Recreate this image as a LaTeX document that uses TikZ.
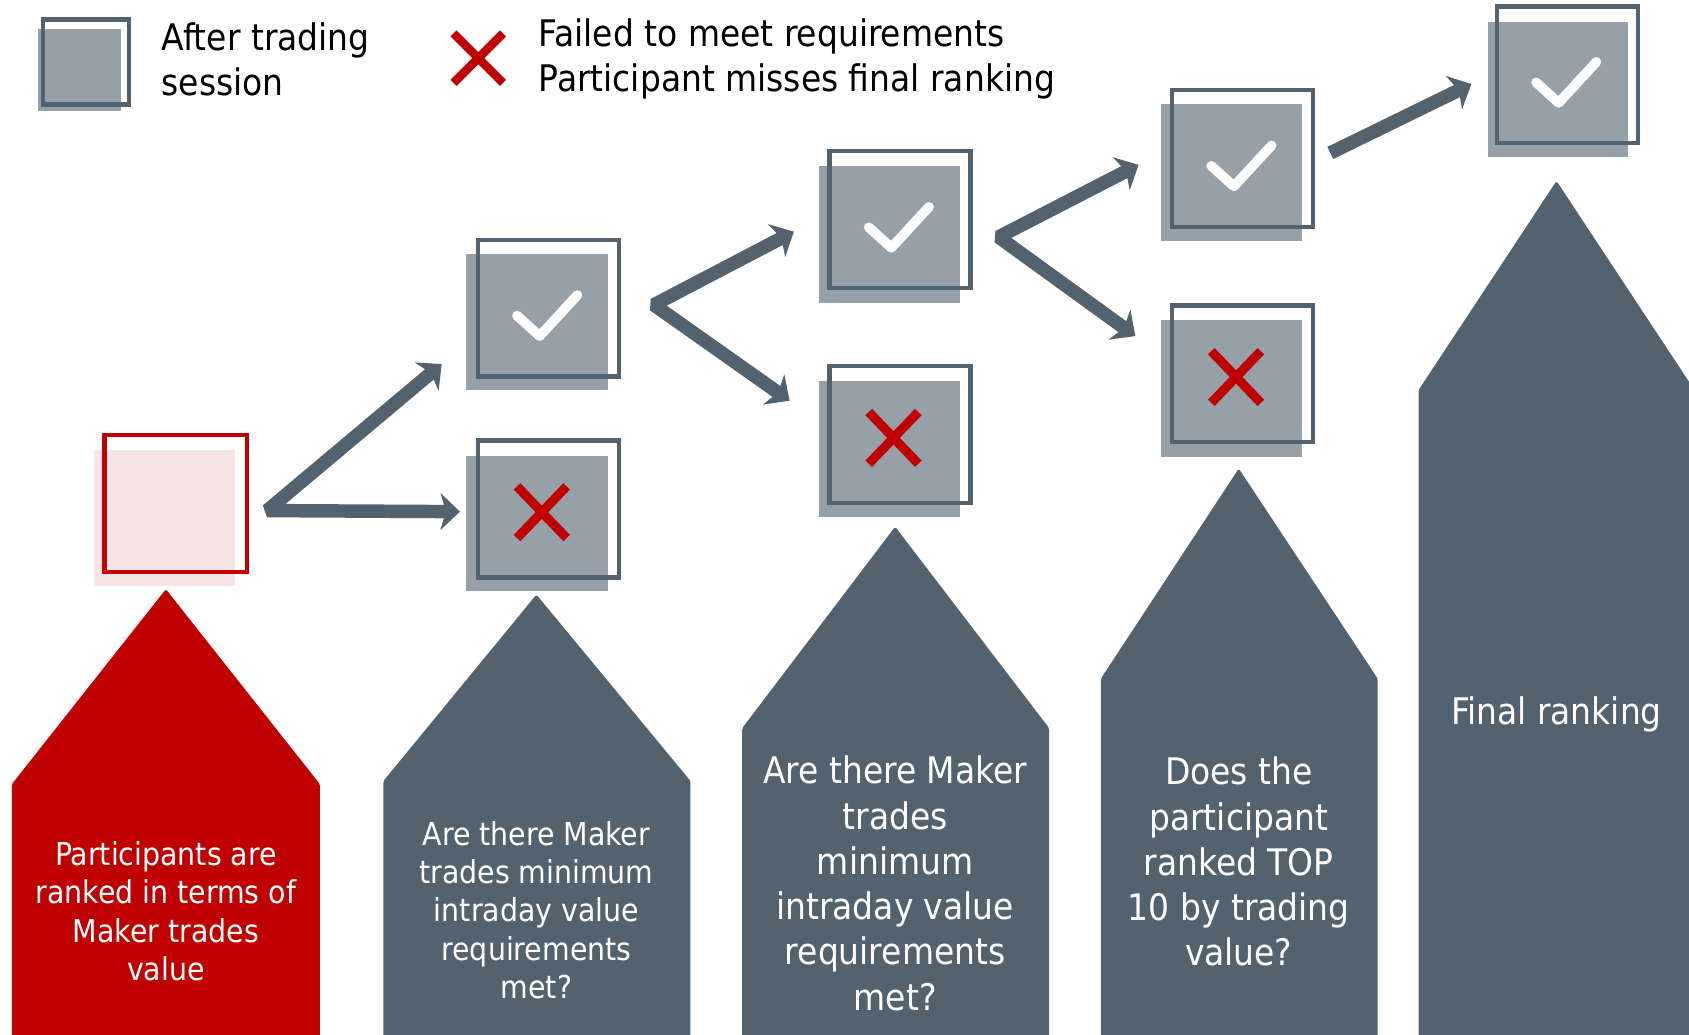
\documentclass[tikz,border=0pt]{standalone}
\usepackage{fontspec}
\setmainfont{DejaVu Sans Condensed}
\usetikzlibrary{arrows.meta,calc}
\definecolor{slate}{RGB}{82,99,111}
\definecolor{lslate}{RGB}{150,160,168}
\definecolor{dred}{RGB}{192,0,0}
\definecolor{lpink}{RGB}{246,228,228}
\tikzset{
  boxline/.style={draw=slate, line width=4pt, minimum width=131pt, minimum height=127pt, inner sep=0pt, outer sep=0pt},
  flowarrow/.style={draw=slate, line width=12.5pt, line join=bevel, arrows={Stealth[length=18pt,width=34pt,inset=5pt]-Stealth[length=18pt,width=34pt,inset=5pt]}},
  onearrow/.style={draw=slate, line width=12.5pt, arrows={-Stealth[length=18pt,width=34pt,inset=5pt]}},
  tick/.style={draw=white, line width=9pt, line cap=round, line join=round},
  cross/.style={draw=dred, line width=8.5pt},
  house/.style={fill=slate, rounded corners=1.5pt},
  bigtxt/.style={text=white, align=center, font=\fontsize{34}{42}\selectfont, inner sep=0pt},
  smalltxt/.style={text=white, align=center, font=\fontsize{29.3}{35.5}\selectfont, inner sep=0pt},
  legtxt/.style={text=black, align=left, font=\fontsize{34}{42}\selectfont, inner sep=0pt, anchor=west}
}
\newcommand\tickmark[1]{\draw[tick] ($(#1)+(-29,7)$) -- ($(#1)+(-8,26)$) -- ($(#1)+(27,-12)$);}
\newcommand\crossmark[1]{\draw[cross] ($(#1)+(-29,-21)$) -- ($(#1)+(17,27)$) ($(#1)+(-29,27)$) -- ($(#1)+(17,-21)$);}
\begin{document}
\begin{tikzpicture}[x=1pt,y=-1pt]
\useasboundingbox (0,0) rectangle (1568,960);
\fill[white] (0,0) rectangle (1568,960);
\clip (0,0) rectangle (1568,960);

% ---------- legend
\fill[lslate] (35,27) rectangle (112,103);
\node[boxline, minimum width=80pt, minimum height=79pt] (leg) at (80,57.5) {};
\node[legtxt] (legA) at (150,55) {After trading\\session};
\coordinate (lx) at (444,54);
\draw[cross, line width=8pt] ($(lx)+(-23,-23)$) -- ($(lx)+(23,23)$) ($(lx)+(-23,23)$) -- ($(lx)+(23,-23)$);
\node[legtxt] (legB) at (500,55) {Failed to meet requirements\\Participant misses final ranking};

% ---------- houses
\fill[dred, rounded corners=1.5pt] (154,547) -- (297,728) -- (297,970) -- (11,970) -- (11,728) -- cycle;
\fill[house] (498,552) -- (641,725) -- (641,970) -- (356,970) -- (356,725) -- cycle;
\fill[house] (831,489) -- (974,676) -- (974,970) -- (689,970) -- (689,676) -- cycle;
\fill[house] (1150,435) -- (1279,630) -- (1279,970) -- (1022,970) -- (1022,630) -- cycle;
\fill[house] (1445,168) -- (1573,362) -- (1573,970) -- (1317,970) -- (1317,362) -- cycle;

\node[smalltxt] (t1) at (154,846) {Participants are\\ranked in terms of\\Maker trades\\value};
\node[smalltxt] (t2) at (498,845) {Are there Maker\\trades minimum\\intraday value\\requirements\\met?};
\node[bigtxt] (t3) at (831,820) {Are there Maker\\trades\\minimum\\intraday value\\requirements\\met?};
\node[bigtxt] (t4) at (1150,800) {Does the\\participant\\ranked TOP\\10 by trading\\value?};
\node[bigtxt] (t5) at (1445,663) {Final ranking};

% ---------- boxes
\fill[lpink] (87,418) rectangle (218,544);
\node[boxline, draw=dred, minimum width=132pt] (b1) at (163,467.5) {};

\fill[lslate] (433,236) rectangle (564,362);
\node[boxline] (b2a) at (509,286) {};
\tickmark{b2a}
\fill[lslate] (433,423) rectangle (564,549);
\node[boxline] (b2b) at (509,472.5) {};
\crossmark{b2b}

\fill[lslate] (760,154) rectangle (891,281);
\node[boxline] (b3a) at (835.5,204) {};
\tickmark{b3a}
\fill[lslate] (760,354) rectangle (891,480);
\node[boxline] (b3b) at (835.5,403.5) {};
\crossmark{b3b}

\fill[lslate] (1078,97) rectangle (1209,224);
\node[boxline] (b4a) at (1153.5,147) {};
\tickmark{b4a}
\fill[lslate] (1078,297) rectangle (1209,424);
\node[boxline] (b4b) at (1153.5,347) {};
\crossmark{b4b}

\fill[lslate] (1381,20) rectangle (1511,146);
\node[boxline] (b5) at (1455,69.5) {};
\tickmark{b5}

% ---------- arrows
\coordinate (v1) at (248,474);
\coordinate (u1) at (410,338);
\coordinate (d1) at (427,475);
\draw[flowarrow] (u1) -- (v1) -- (d1);

\coordinate (v2) at (607,283);
\coordinate (u2) at (737,215);
\coordinate (d2) at (733,372);
\draw[flowarrow] (u2) -- (v2) -- (d2);

\coordinate (v3) at (927,220);
\coordinate (u3) at (1057,153);
\coordinate (d3) at (1054,312);
\draw[flowarrow] (u3) -- (v3) -- (d3);

\coordinate (s4) at (1235,142);
\coordinate (u4) at (1366,78);
\draw[onearrow] (s4) -- (u4);
\end{tikzpicture}
\end{document}
